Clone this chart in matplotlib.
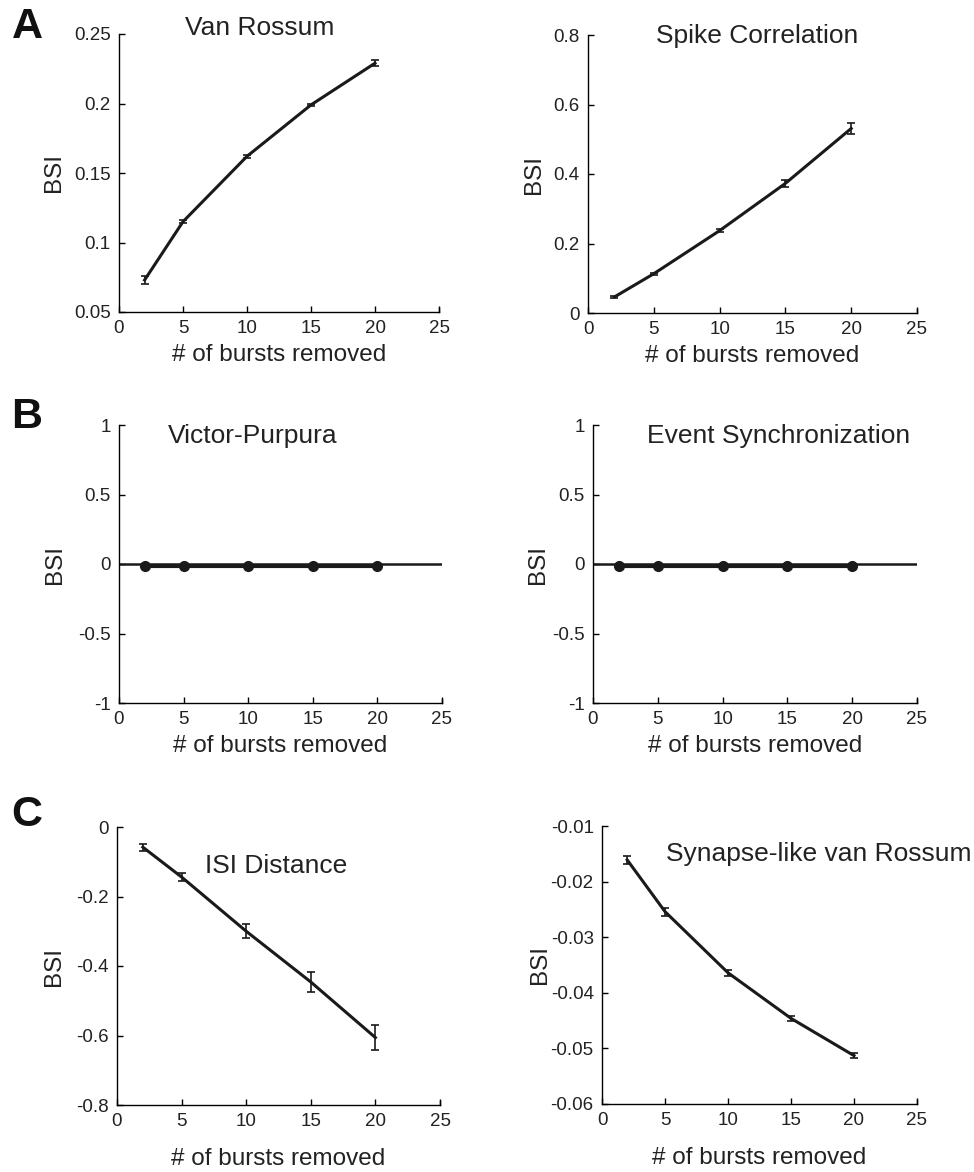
import matplotlib
matplotlib.use("Agg")
import matplotlib.pyplot as plt
import numpy as np

plt.rcParams['font.family'] = ['Liberation Sans', 'DejaVu Sans']

x_bursts = [2, 5, 10, 15, 20]

vr_mean = [0.073, 0.115, 0.162, 0.199, 0.229]
vr_err = [0.003, 0.001, 0.001, 0.001, 0.002]

sc_mean = [0.046, 0.113, 0.237, 0.373, 0.531]
sc_err = [0.003, 0.003, 0.004, 0.010, 0.015]

vp_mean = [0.0, 0.0, 0.0, 0.0, 0.0]
es_mean = [0.0, 0.0, 0.0, 0.0, 0.0]

isi_mean = [-0.058, -0.144, -0.300, -0.446, -0.606]
isi_err = [0.010, 0.012, 0.020, 0.030, 0.037]

syn_mean = [-0.0161, -0.0254, -0.0364, -0.0446, -0.0513]
syn_err = [0.0007, 0.0007, 0.0005, 0.0005, 0.0005]

titles = ["Van Rossum", "Spike Correlation", "Victor-Purpura",
          "Event Synchronization", "ISI Distance", "Synapse-like van Rossum"]
xlabel = "# of bursts removed"
ylabel = "BSI"

W, H = 974, 1172
fig = plt.figure(figsize=(W / 100, H / 100), dpi=100)


def axes_px(x0, x1, y0, y1):
    return fig.add_axes([x0 / W, 1 - y1 / H, (x1 - x0) / W, (y1 - y0) / H])


TICK_FS = 13.5
LAB_FS = 17.5
TITLE_FS = 19
COL = '#1a1a1a'
TXT = '#222222'


def style(ax, ylim, yticks, yticklabels, ylab_x, xlab_y):
    ax.set_xlim(0, 25)
    ax.set_xticks([0, 5, 10, 15, 20, 25])
    ax.set_ylim(*ylim)
    ax.set_yticks(yticks)
    ax.set_yticklabels(yticklabels)
    for s in ['top', 'right']:
        ax.spines[s].set_visible(False)
    for s in ['left', 'bottom']:
        ax.spines[s].set_linewidth(1.0)
        ax.spines[s].set_color('black')
    ax.tick_params(direction='in', length=4, width=1, labelsize=TICK_FS,
                   colors='black', labelcolor=TXT)
    ax.tick_params(axis='y', pad=6)
    ax.tick_params(axis='x', pad=6)
    ax.set_xlabel(xlabel, fontsize=LAB_FS, color=TXT)
    ax.set_ylabel(ylabel, fontsize=LAB_FS, color=TXT)
    ax.yaxis.set_label_coords(ylab_x, 0.5)
    ax.xaxis.set_label_coords(0.5, xlab_y)
    # tick at the right end of the x axis (MATLAB-like)
    ax.plot([1, 1], [0, 0.015], transform=ax.transAxes, color='black', lw=1, clip_on=False)


def err_plot(ax, m, e):
    ax.errorbar(x_bursts, m, yerr=e, color=COL, lw=2.2, elinewidth=1.2,
                capsize=3, capthick=1.2)


# A left
ax1 = axes_px(119, 439, 34, 312)
err_plot(ax1, vr_mean, vr_err)
style(ax1, (0.05, 0.25), [0.05, 0.1, 0.15, 0.2, 0.25],
      ['0.05', '0.1', '0.15', '0.2', '0.25'], -0.17, -0.115)
ax1.text(0.44, 1.02, titles[0], transform=ax1.transAxes, fontsize=TITLE_FS,
         ha='center', va='center', color=TXT)

# A right
ax2 = axes_px(588, 917, 35, 313)
err_plot(ax2, sc_mean, sc_err)
style(ax2, (0, 0.8), [0, 0.2, 0.4, 0.6, 0.8],
      ['0', '0.2', '0.4', '0.6', '0.8'], -0.13, -0.115)
ax2.text(0.515, 0.996, titles[1], transform=ax2.transAxes, fontsize=TITLE_FS,
         ha='center', va='center', color=TXT)

# B
for (x0, x1, ttl, m, tx, tyl) in [(119, 442, titles[2], vp_mean, 0.413, -0.165),
                                  (593, 917, titles[3], es_mean, 0.574, -0.137)]:
    ax = axes_px(x0, x1, 425, 703)
    ax.axhline(0, color=COL, lw=1.8)
    ax.plot(x_bursts, np.array(m) - 0.012, color=COL, lw=3, marker='o',
            markersize=7)
    style(ax, (-1, 1), [-1, -0.5, 0, 0.5, 1],
          ['-1', '-0.5', '0', '0.5', '1'], tyl, -0.115)
    ax.text(tx, 0.962, ttl, transform=ax.transAxes, fontsize=TITLE_FS,
            ha='center', va='center', color=TXT)

# C left
ax5 = axes_px(117, 440, 827, 1105)
err_plot(ax5, isi_mean, isi_err)
style(ax5, (-0.8, 0), [-0.8, -0.6, -0.4, -0.2, 0],
      ['-0.8', '-0.6', '-0.4', '-0.2', '0'], -0.16, -0.155)
ax5.text(0.494, 0.86, titles[4], transform=ax5.transAxes, fontsize=TITLE_FS,
         ha='center', va='center', color=TXT)

# C right
ax6 = axes_px(602, 917, 826, 1104)
err_plot(ax6, syn_mean, syn_err)
style(ax6, (-0.06, -0.01), [-0.06, -0.05, -0.04, -0.03, -0.02, -0.01],
      ['-0.06', '-0.05', '-0.04', '-0.03', '-0.02', '-0.01'], -0.162, -0.155)
ax6.text(0.203, 0.899, titles[5], transform=ax6.transAxes, fontsize=TITLE_FS,
         ha='left', va='center', clip_on=False, color=TXT)

# panel letters
for lab, yc in [('A', 27), ('B', 417), ('C', 815)]:
    fig.text(27 / W, 1 - yc / H, lab, fontsize=31, fontweight='bold',
             ha='center', va='center', color='#111111')

fig.savefig('out.png', dpi=100)
